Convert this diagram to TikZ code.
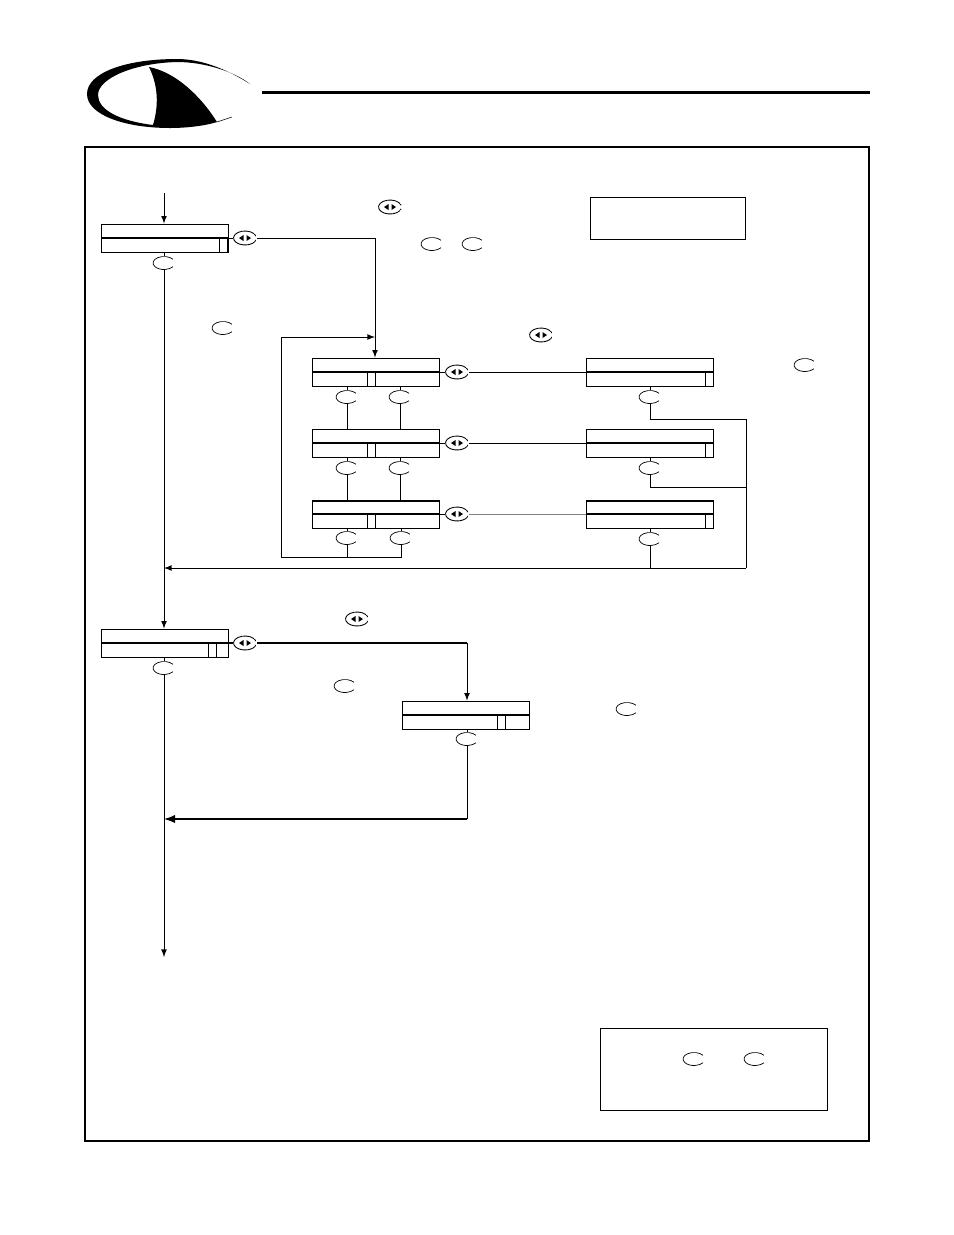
\documentclass[tikz,border=0pt]{standalone}
\usepackage{xcolor}
\usepackage{tikz}
\usetikzlibrary{shapes.geometric}

\tikzset{
    >=latex,
    link/.style={line width=0.5pt},
    boldlink/.style={line width=1.2pt},
    lcd/.style={draw, rectangle, line width=0.5pt, inner sep=0, minimum width=2.54cm, minimum height=0.56cm,
        path picture={\draw[line width=0.6pt] (path picture bounding box.west) -- (path picture bounding box.east);}},
    lcdtop/.style={lcd, path picture={\draw[line width=0.6pt] (path picture bounding box.west) -- (path picture bounding box.east);
        \draw[line width=2pt] (path picture bounding box.north west) -- (path picture bounding box.north east);}},
    cursor/.style={draw, rectangle, fill=white, line width=0.5pt, inner sep=0, minimum width=0.16cm, minimum height=0.28cm},
    keycap/.style={ellipse, fill=white, inner sep=0, minimum width=0.46cm, minimum height=0.28cm,
        path picture={\draw[line width=0.4pt] ([shift={(35:0.22cm and 0.13cm)}]path picture bounding box.center)
            arc[start angle=35, end angle=325, x radius=0.22cm, y radius=0.13cm];}},
    navkey/.style={ellipse, fill=white, inner sep=0, minimum width=0.48cm, minimum height=0.30cm,
        path picture={
            \draw[line width=0.5pt] ([shift={(15:0.23cm and 0.14cm)}]path picture bounding box.center)
                arc[start angle=15, end angle=345, x radius=0.23cm, y radius=0.14cm];
            \fill[black] ([xshift=-0.12cm]path picture bounding box.center) -- ++(0.09cm,0.06cm) -- ++(0,-0.12cm) -- cycle;
            \fill[black] ([xshift=0.12cm]path picture bounding box.center) -- ++(-0.09cm,0.06cm) -- ++(0,-0.12cm) -- cycle;
        }},
}

\begin{document}
\begin{tikzpicture}[x=0.02cm, y=-0.02cm]
    \useasboundingbox (0,0) rectangle (954,1235);

    % logo
    \fill (250,84) .. controls (225,68) and (200,59) .. (177,59) .. controls (125,59) and (87,73) .. (87,94)
        .. controls (87,115) and (125,128) .. (170,128) .. controls (190,128) and (208,125) .. (217,122)
        .. controls (200,95) and (175,72) .. (149,67) .. controls (158,85) and (159,105) .. (153,125)
        .. controls (120,121) and (98,110) .. (98,95) .. controls (98,78) and (135,63) .. (177,62)
        .. controls (205,62) and (235,72) .. (250,84) -- cycle;
    \draw[line width=0.3pt] (217,122) -- (232,117);
    \draw[line width=1.7pt] (262,92) -- (870,92);

    % frames
    \node[draw, line width=0.9pt, inner sep=0, minimum width=15.68cm, minimum height=19.88cm] at (477,644) (pageframe) {};
    \node[draw, line width=0.5pt, inner sep=0, minimum width=3.10cm, minimum height=0.84cm] at (667.5,218) (notebox) {};
    \node[draw, line width=0.5pt, inner sep=0, minimum width=4.54cm, minimum height=1.64cm] at (713.5,1069) (legendbox) {};

    % first display
    \node[lcd] at (164.5,238) (dispa) {};
    \node[cursor] at (223,245) (cura) {};
    \node[navkey] at (245,238) (nava) {};
    \node[keycap] at (164,263) (keya) {};

    % column of displays
    \node[lcd] at (375.5,372) (dispb1) {};
    \node[lcd] at (375.5,443) (dispb2) {};
    \node[lcdtop] at (375.5,514) (dispb3) {};
    \node[cursor] at (371,379) (curb1) {};
    \node[cursor] at (371,450) (curb2) {};
    \node[cursor] at (371,521) (curb3) {};
    \node[navkey] at (457,372) (navb1) {};
    \node[navkey] at (457,443) (navb2) {};
    \node[navkey] at (457,514) (navb3) {};
    \node[keycap] at (347,397) (keyl1) {};
    \node[keycap] at (400,397) (keyr1) {};
    \node[keycap] at (347,468) (keyl2) {};
    \node[keycap] at (400,468) (keyr2) {};
    \node[keycap] at (347,538) (keyl3) {};
    \node[keycap] at (401,538) (keyr3) {};

    \node[lcd] at (650,372) (dispc1) {};
    \node[lcd] at (650,443) (dispc2) {};
    \node[lcdtop] at (650,514) (dispc3) {};
    \node[cursor] at (709,379) (curc1) {};
    \node[cursor] at (709,450) (curc2) {};
    \node[cursor] at (709,521) (curc3) {};
    \node[keycap] at (650,397) (keyc1) {};
    \node[keycap] at (650,468) (keyc2) {};
    \node[keycap] at (650,539) (keyc3) {};

    % second part
    \node[lcd] at (164.5,643) (dispd) {};
    \node[cursor] at (212,650) (curd) {};
    \node[navkey] at (245,643) (navd) {};
    \node[keycap] at (164,668) (keyd) {};
    \node[lcd] at (466,715) (dispe) {};
    \node[cursor] at (501.5,722) (cure) {};
    \node[keycap] at (467,739) (keye) {};

    % keys beside the flow
    \node[navkey] at (390,207) (navnotea) {};
    \node[keycap] at (432,244) (keynotea) {};
    \node[keycap] at (473,244) (keynoteb) {};
    \node[keycap] at (223,328) (keynotec) {};
    \node[navkey] at (541,335) (navnoteb) {};
    \node[keycap] at (805,365) (keynoted) {};
    \node[navkey] at (357,619) (navnotec) {};
    \node[keycap] at (345,686) (keynotee) {};
    \node[keycap] at (627,709) (keynotef) {};
    \node[keycap] at (694,1059) (keyleg1) {};
    \node[keycap] at (755,1059) (keyleg2) {};

    % free ends and bends
    \coordinate (start) at (164,193);
    \coordinate (finish) at (164,957);
    \coordinate (joinup) at (164,568);
    \coordinate (joindown) at (164,819);
    \coordinate (loopin) at (375,337);
    \coordinate (loopbottom) at (281,557);
    \coordinate (cornera) at (375,238);
    \coordinate (cornerb) at (746,419);
    \coordinate (cornerc) at (746,568);
    \coordinate (cornerd) at (746,487);
    \coordinate (cornere) at (467,643);
    \coordinate (cornerf) at (467,819);

    % connectors
    \draw[->, link] (start) -- (start |- dispa.north);
    \draw[link] (keya |- dispa.south) -- (keya);
    \draw[->, link] (keya) -- (keya |- dispd.north);
    \draw[link] (dispa.east) -- (nava);
    \draw[link] (nava) -- (cornera);
    \draw[->, link] (cornera) -- (cornera |- dispb1.north);
    \draw[->, link] (loopbottom) |- (loopin);

    \draw[link] (keyl1 |- dispb1.south) -- (keyl1);
    \draw[link] (keyr1 |- dispb1.south) -- (keyr1);
    \draw[link] (keyl1) -- (keyl1 |- dispb2.north);
    \draw[link] (keyr1) -- (keyr1 |- dispb2.north);
    \draw[link] (keyl2 |- dispb2.south) -- (keyl2);
    \draw[link] (keyr2 |- dispb2.south) -- (keyr2);
    \draw[link] (keyl2) -- (keyl2 |- dispb3.north);
    \draw[link] (keyr2) -- (keyr2 |- dispb3.north);
    \draw[link] (keyl3 |- dispb3.south) -- (keyl3);
    \draw[link] (keyr3 |- dispb3.south) -- (keyr3);
    \draw[link] (keyl3) -- (keyl3 |- loopbottom);
    \draw[link] (keyr3) |- (loopbottom);

    \draw[link] (dispb1.east) -- (navb1);
    \draw[link] (dispb2.east) -- (navb2);
    \draw[link] (dispb3.east) -- (navb3);
    \draw[link] (navb1) -- (dispc1.west);
    \draw[link] (navb2) -- (dispc2.west);
    \draw[link, gray] (navb3) -- (dispc3.west);

    \draw[link] (keyc1 |- dispc1.south) -- (keyc1);
    \draw[link] (keyc2 |- dispc2.south) -- (keyc2);
    \draw[link] (keyc3 |- dispc3.south) -- (keyc3);
    \draw[link] (keyc1) |- (cornerb) -- (cornerc);
    \draw[link] (keyc2) |- (cornerd);
    \draw[link] (keyc3) -- (keyc3 |- cornerc);
    \draw[->, link] (cornerc) -- (joinup);

    \draw[link] (keyd |- dispd.south) -- (keyd);
    \draw[->, link] (keyd) -- (finish);
    \draw[boldlink] (dispd.east) -- (navd);
    \draw[boldlink] (navd) -- (cornere);
    \draw[->, link] (cornere) -- (cornere |- dispe.north);
    \draw[link] (keye |- dispe.south) -- (keye);
    \draw[link] (keye) -- (cornerf);
    \draw[->, boldlink] (cornerf) -- (joindown);
\end{tikzpicture}
\end{document}
